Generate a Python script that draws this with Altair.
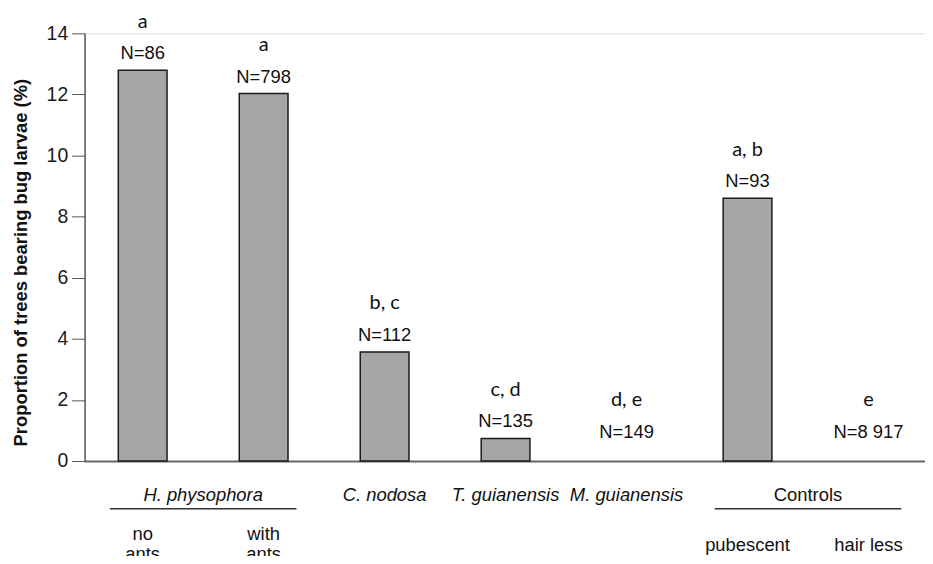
import altair as alt
import pandas as pd

# ---- data ----
categories = ["no ants", "with ants", "C. nodosa", "T. guianensis", "M. guianensis", "pubescent", "hair less"]
proportions = [12.79, 12.03, 3.57, 0.74, 0.0, 8.60, 0.0]
sample_sizes = ["N=86", "N=798", "N=112", "N=135", "N=149", "N=93", "N=8 917"]
letters = ["a", "a", "b, c", "c, d", "d, e", "a, b", "e"]

species_labels = ["", "", "C. nodosa", "T. guianensis", "M. guianensis", "", ""]
sub_line1 = ["no", "with", "", "", "", "", ""]
sub_line2 = ["ants", "ants", "", "", "", "", ""]
control_labels = ["", "", "", "", "", "pubescent", "hair less"]

group_names = ["H. physophora", "Controls"]
group_first = ["no ants", "pubescent"]
group_last = ["with ants", "hair less"]
group_italic = [True, False]

y_ticks = [0, 2, 4, 6, 8, 10, 12, 14]

# ---- tables ----
pos = {c: i + 1 for i, c in enumerate(categories)}
bars = pd.DataFrame({
    "category": categories,
    "idx": [pos[c] for c in categories],
    "value": proportions,
    "n": sample_sizes,
    "letter": letters,
    "species": species_labels,
    "l1": sub_line1,
    "l2": sub_line2,
    "ctrl": control_labels,
})
groups = pd.DataFrame({
    "name": group_names,
    "start": [pos[c] for c in group_first],
    "end": [pos[c] for c in group_last],
    "italic": group_italic,
})
groups["mid"] = (groups["start"] + groups["end"]) / 2

W, H = 845, 430
xscale = alt.Scale(domain=[0.561, 7.426], nice=False, zero=False)
yscale = alt.Scale(domain=[0, 14], nice=False)
FONT = "Liberation Sans"
TXT = "#111111"
LAB = 18.5

base = alt.Chart(bars)

bar_layer = base.transform_filter("datum.value > 0").mark_bar(
    width=49, color="#a6a6a6", stroke="#1a1a1a", strokeWidth=1.5
).encode(
    x=alt.X("idx:Q", scale=xscale,
            axis=alt.Axis(labels=False, ticks=False, grid=False, title=None,
                          domain=True, domainColor="#666666", domainWidth=2)),
    y=alt.Y("value:Q", scale=yscale,
            axis=alt.Axis(values=y_ticks, grid=False, tickSize=13, labelPadding=4,
                          labelFontSize=19.5, labelFont=FONT, labelColor="#1a1a1a",
                          tickColor="#555555", domainColor="#333333", domainWidth=1.2,
                          title="Proportion of trees bearing bug larvae (%)",
                          titleFont=FONT, titleFontSize=18.5, titleFontWeight="bold",
                          titleColor=TXT, titleAngle=270, titleX=-64, titleY=230,
                          titleAlign="center", titleBaseline="middle")),
)

top_base = base.transform_calculate(anchor="max(datum.value, 0.4)")

n_layer = top_base.mark_text(
    dy=-17, baseline="middle", fontSize=18.5, font=FONT, color=TXT
).encode(x=alt.X("idx:Q", scale=xscale), y=alt.Y("anchor:Q", scale=yscale), text="n:N")

letter_layer = top_base.mark_text(
    dy=-49, baseline="middle", fontSize=20, font="Lato", color=TXT
).encode(x=alt.X("idx:Q", scale=xscale), y=alt.Y("anchor:Q", scale=yscale), text="letter:N")

species_layer = base.transform_filter("datum.species != ''").mark_text(
    baseline="middle", fontSize=LAB, font=FONT, fontStyle="italic", color=TXT
).encode(x=alt.X("idx:Q", scale=xscale), y=alt.value(H + 34), text="species:N")

l1_layer = base.transform_filter("datum.l1 != ''").mark_text(
    baseline="middle", fontSize=LAB, font=FONT, color=TXT
).encode(x=alt.X("idx:Q", scale=xscale), y=alt.value(H + 73), text="l1:N")

l2_layer = base.transform_filter("datum.l2 != ''").mark_text(
    baseline="middle", fontSize=LAB, font=FONT, color=TXT
).encode(x=alt.X("idx:Q", scale=xscale), y=alt.value(H + 94), text="l2:N")

ctrl_layer = base.transform_filter("datum.ctrl != ''").mark_text(
    baseline="middle", fontSize=LAB, font=FONT, color=TXT
).encode(x=alt.X("idx:Q", scale=xscale), y=alt.value(H + 84), text="ctrl:N")

gbase = alt.Chart(groups)
g_italic = gbase.transform_filter("datum.italic").mark_text(
    baseline="middle", fontSize=LAB, font=FONT, fontStyle="italic", color=TXT
).encode(x=alt.X("mid:Q", scale=xscale), y=alt.value(H + 34), text="name:N")
g_normal = gbase.transform_filter("!datum.italic").mark_text(
    baseline="middle", fontSize=LAB, font=FONT, color=TXT
).encode(x=alt.X("mid:Q", scale=xscale), y=alt.value(H + 34), text="name:N")
g_rule = gbase.mark_rule(
    color="#333333", strokeWidth=1.5, xOffset=-33, x2Offset=33
).encode(x=alt.X("start:Q", scale=xscale), x2="end:Q", y=alt.value(H + 48))

chart = alt.layer(
    bar_layer, n_layer, letter_layer, species_layer, l1_layer, l2_layer,
    ctrl_layer, g_italic, g_normal, g_rule
).properties(
    width=W, height=H,
    autosize=alt.AutoSizeParams(type="none"),
    padding={"left": 77, "top": 24, "right": 0, "bottom": 94},
).configure_view(stroke=None).configure(background="white")

chart.save("out.html", embed_options={"renderer": "svg", "actions": False})
